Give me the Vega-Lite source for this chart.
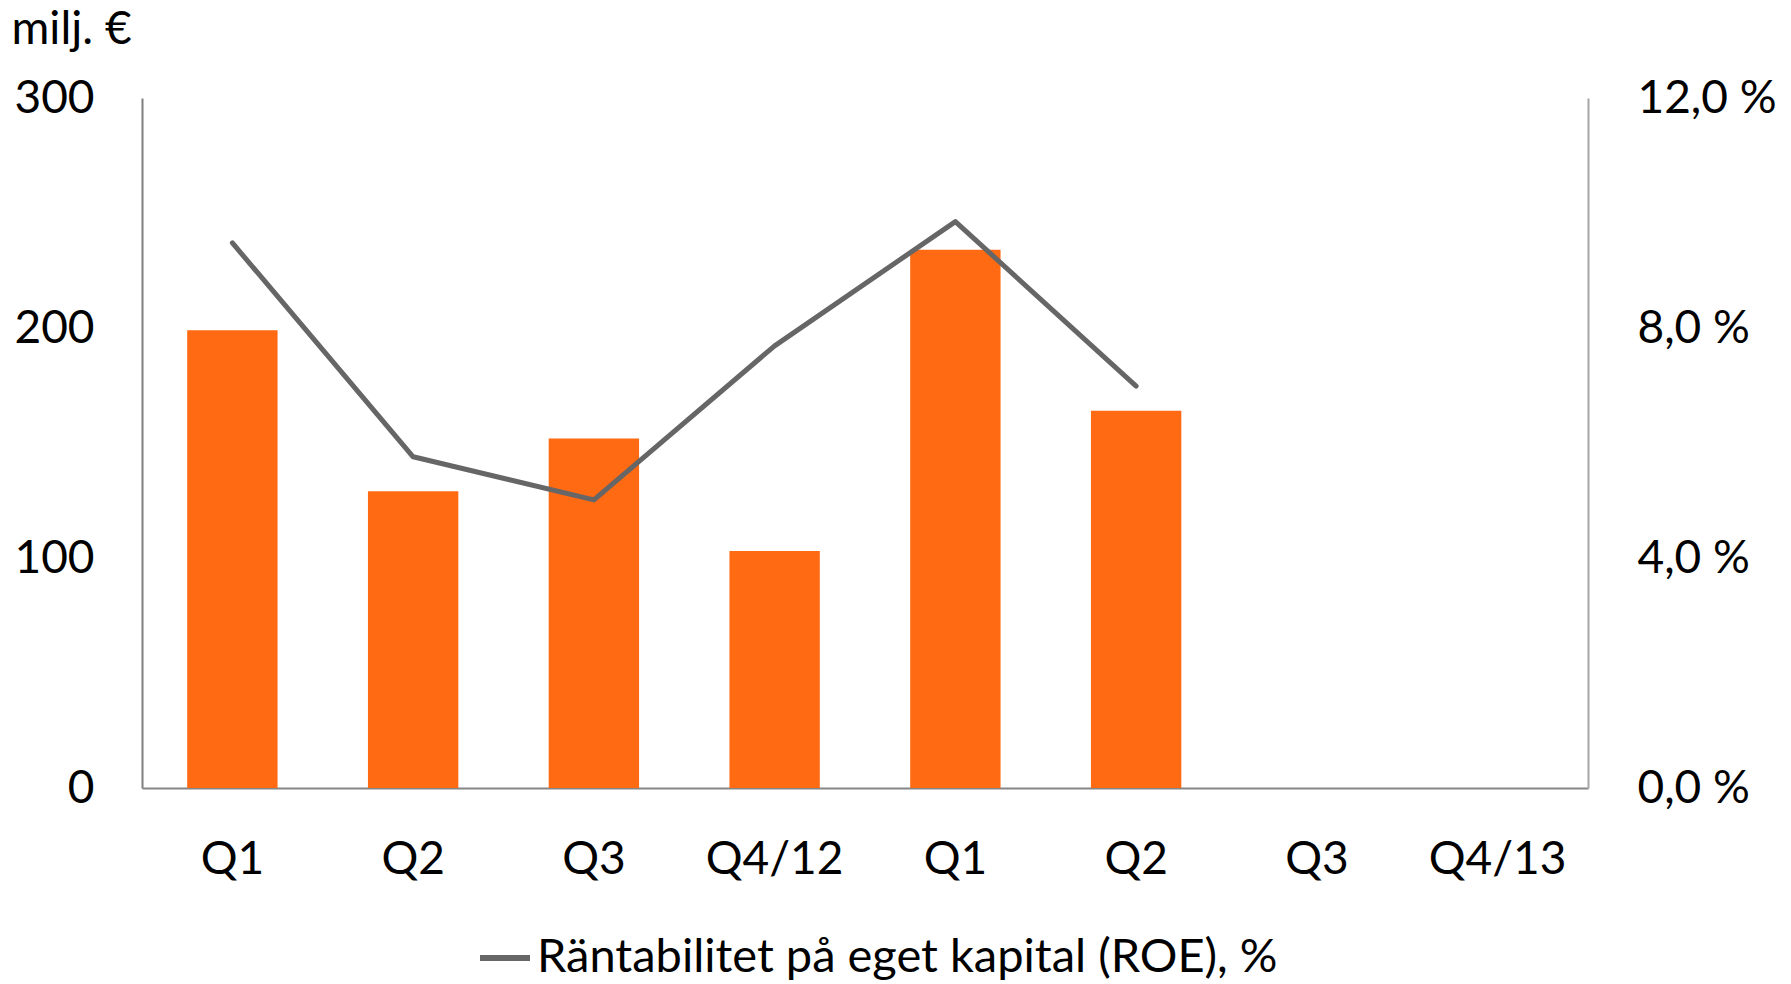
{
  "$schema": "https://vega.github.io/schema/vega-lite/v6.json",
  "width": 1446,
  "height": 690,
  "autosize": "none",
  "padding": {"left": 142, "top": 98, "right": 203, "bottom": 196},
  "background": "white",
  "config": {"view": {"stroke": null}, "font": "Lato"},
  "data": {
    "values": [
      {"k": "Q1|12", "profit": 199, "roe": 9.48},
      {"k": "Q2|12", "profit": 129, "roe": 5.76},
      {"k": "Q3|12", "profit": 152, "roe": 5.01},
      {"k": "Q4/12|12", "profit": 103, "roe": 7.69},
      {"k": "Q1|13", "profit": 234, "roe": 9.85},
      {"k": "Q2|13", "profit": 164, "roe": 6.99},
      {"k": "Q3|13", "profit": null, "roe": null},
      {"k": "Q4/13|13", "profit": null, "roe": null}
    ]
  },
  "encoding": {
    "x": {
      "field": "k",
      "type": "nominal",
      "sort": null,
      "scale": {
        "domain": ["Q1|12", "Q2|12", "Q3|12", "Q4/12|12", "Q1|13", "Q2|13", "Q3|13", "Q4/13|13"],
        "paddingInner": 0.5,
        "paddingOuter": 0.25
      },
      "axis": {
        "title": null,
        "labelAngle": 0,
        "labelExpr": "split(datum.value, '|')[0]",
        "labelFontSize": 46,
        "labelColor": "#000000",
        "labelPadding": 49,
        "ticks": false,
        "domain": true,
        "domainColor": "#868686",
        "domainWidth": 2
      }
    }
  },
  "layer": [
    {
      "mark": {"type": "bar", "color": "#FF6A13"},
      "encoding": {
        "y": {
          "field": "profit",
          "type": "quantitative",
          "scale": {"domain": [0, 300], "nice": false},
          "axis": {
            "values": [0, 100, 200, 300],
            "grid": false,
            "ticks": false,
            "domain": true,
            "domainColor": "#7F7F7F",
            "domainWidth": 2,
            "labelFontSize": 46,
            "labelColor": "#000000",
            "labelPadding": 48,
            "title": "milj. €",
            "titleAngle": 0,
            "titleFontSize": 46,
            "titleFontWeight": "normal",
            "titleColor": "#000000",
            "titleAlign": "left",
            "titleBaseline": "alphabetic",
            "titleX": -131,
            "titleY": -55
          }
        }
      }
    },
    {
      "mark": {"type": "line", "strokeWidth": 5, "strokeCap": "round", "strokeJoin": "round"},
      "encoding": {
        "y": {
          "field": "roe",
          "type": "quantitative",
          "scale": {"domain": [0, 12], "nice": false},
          "axis": {
            "orient": "right",
            "values": [0, 4, 8, 12],
            "labelExpr": "replace(format(datum.value, '.1f'), '.', ',') + ' %'",
            "grid": false,
            "ticks": false,
            "domain": true,
            "domainColor": "#A6A6A6",
            "domainWidth": 2,
            "labelFontSize": 46,
            "labelColor": "#000000",
            "labelPadding": 49,
            "title": null
          }
        },
        "color": {
          "datum": "Räntabilitet på eget kapital (ROE), %",
          "scale": {"range": ["#666666"]},
          "legend": {
            "title": null,
            "orient": "none",
            "legendX": 335,
            "legendY": 832,
            "symbolType": "stroke",
            "symbolSize": 2500,
            "symbolStrokeWidth": 6,
            "labelFontSize": 47,
            "labelColor": "#000000",
            "labelOffset": 4,
            "labelLimit": 1000
          }
        }
      }
    }
  ],
  "resolve": {"scale": {"y": "independent", "color": "independent"}}
}
